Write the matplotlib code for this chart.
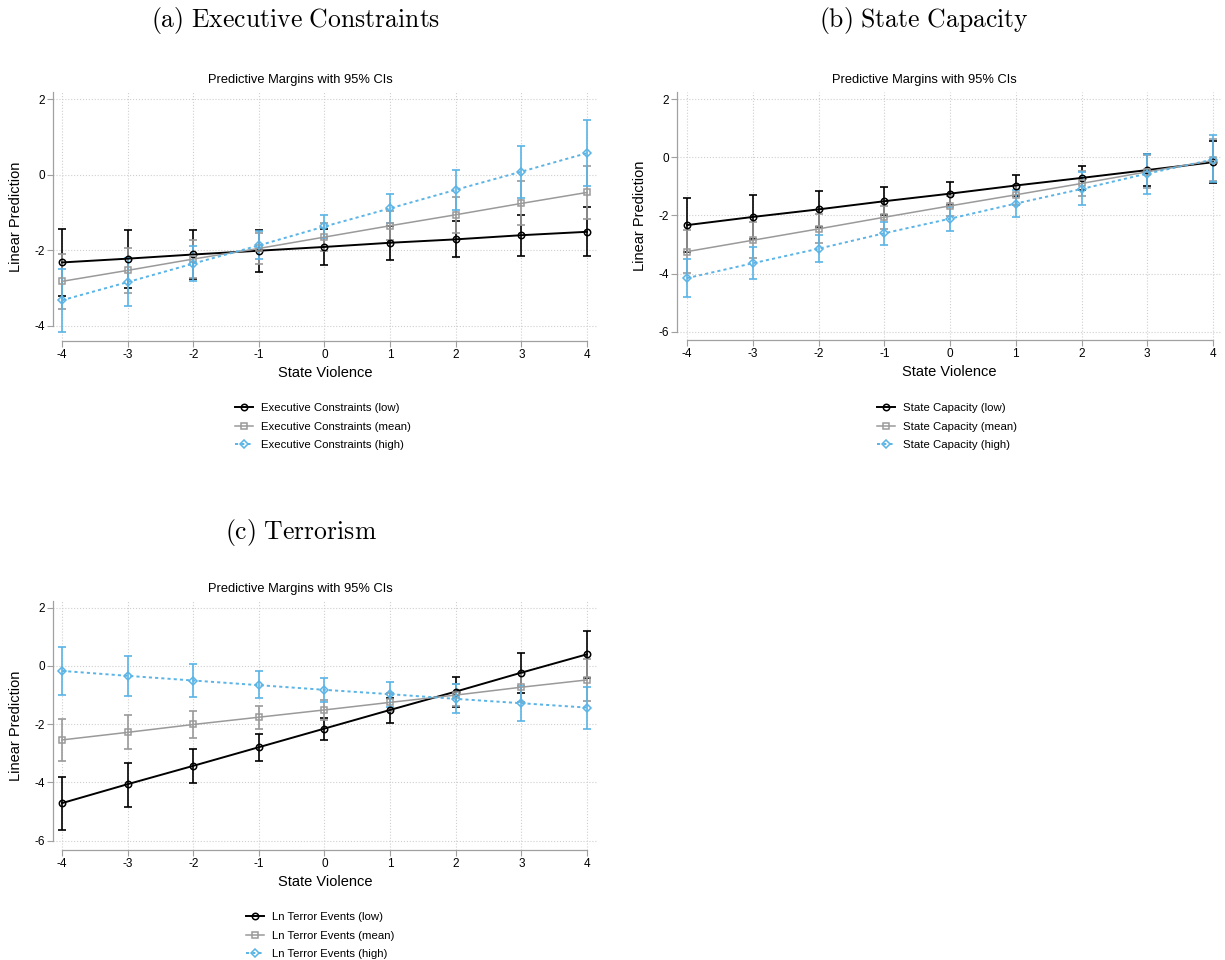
import numpy as np
import matplotlib
matplotlib.use('Agg')
import matplotlib.pyplot as plt

plt.rcParams['font.family'] = ['Liberation Sans', 'DejaVu Sans']
plt.rcParams['mathtext.fontset'] = 'cm'
plt.rcParams['axes.unicode_minus'] = False

x = np.arange(-4, 5)

# (a) executive constraints: point estimates and 95% bounds
ec_low = [-2.32, -2.22, -2.11, -2.01, -1.91, -1.80, -1.71, -1.60, -1.51]
ec_low_lo = [-3.21, -2.99, -2.76, -2.56, -2.38, -2.25, -2.18, -2.14, -2.14]
ec_low_hi = [-1.43, -1.47, -1.47, -1.47, -1.44, -1.35, -1.23, -1.06, -0.85]
ec_mean = [-2.82, -2.53, -2.23, -1.95, -1.65, -1.35, -1.06, -0.76, -0.47]
ec_mean_lo = [-3.54, -3.13, -2.73, -2.35, -2.02, -1.73, -1.54, -1.34, -1.18]
ec_mean_hi = [-2.10, -1.93, -1.73, -1.55, -1.28, -0.97, -0.58, -0.18, 0.24]
ec_high = [-3.32, -2.84, -2.35, -1.87, -1.37, -0.89, -0.40, 0.08, 0.57]
ec_high_lo = [-4.15, -3.48, -2.82, -2.24, -1.68, -1.28, -0.93, -0.61, -0.31]
ec_high_hi = [-2.49, -2.20, -1.88, -1.50, -1.06, -0.50, 0.13, 0.77, 1.45]

# (b) state capacity
sc_low = [-2.33, -2.05, -1.79, -1.51, -1.25, -0.97, -0.71, -0.44, -0.17]
sc_low_lo = [-3.26, -2.82, -2.41, -1.99, -1.64, -1.32, -1.13, -0.99, -0.89]
sc_low_hi = [-1.40, -1.28, -1.17, -1.03, -0.86, -0.62, -0.29, 0.11, 0.55]
sc_mean = [-3.24, -2.85, -2.46, -2.06, -1.67, -1.29, -0.90, -0.50, -0.11]
sc_mean_lo = [-3.99, -3.47, -2.96, -2.46, -2.01, -1.63, -1.34, -1.07, -0.83]
sc_mean_hi = [-2.49, -2.23, -1.96, -1.66, -1.33, -0.95, -0.46, 0.07, 0.61]
sc_high = [-4.15, -3.64, -3.14, -2.61, -2.11, -1.59, -1.09, -0.56, -0.08]
sc_high_lo = [-4.81, -4.17, -3.58, -3.02, -2.52, -2.06, -1.65, -1.26, -0.86]
sc_high_hi = [-3.49, -3.09, -2.68, -2.22, -1.72, -1.11, -0.50, 0.11, 0.77]

# (c) terrorism
te_low = [-4.71, -4.06, -3.43, -2.79, -2.15, -1.51, -0.88, -0.23, 0.40]
te_low_lo = [-5.63, -4.83, -4.03, -3.26, -2.55, -1.95, -1.40, -0.92, -0.42]
te_low_hi = [-3.80, -3.34, -2.86, -2.35, -1.77, -1.09, -0.37, 0.43, 1.21]
te_mean = [-2.54, -2.28, -2.01, -1.76, -1.51, -1.25, -1.00, -0.73, -0.48]
te_mean_lo = [-3.25, -2.86, -2.48, -2.15, -1.84, -1.56, -1.38, -1.23, -1.20]
te_mean_hi = [-1.83, -1.70, -1.54, -1.37, -1.18, -0.94, -0.62, -0.23, 0.24]
te_high = [-0.17, -0.34, -0.50, -0.66, -0.82, -0.97, -1.13, -1.28, -1.43]
te_high_lo = [-1.01, -1.03, -1.05, -1.11, -1.25, -1.40, -1.62, -1.88, -2.15]
te_high_hi = [0.64, 0.34, 0.06, -0.19, -0.40, -0.54, -0.63, -0.68, -0.71]

ec_labels = ['Executive Constraints (low)', 'Executive Constraints (mean)',
             'Executive Constraints (high)']
sc_labels = ['State Capacity (low)', 'State Capacity (mean)', 'State Capacity (high)']
te_labels = ['Ln Terror Events (low)', 'Ln Terror Events (mean)',
             'Ln Terror Events (high)']

BLUE = '#5ab4e6'
GRAY = '#9a9a9a'
styles = [
    dict(color='black', marker='o', ls='-', lw=1.4, ms=4.6),
    dict(color=GRAY, marker='s', ls='-', lw=1.1, ms=4.3),
    dict(color=BLUE, marker='D', ls=(0, (1.6, 1.6)), lw=1.4, ms=4.0),
]

W, H = 1225, 960
fig = plt.figure(figsize=(W / 100, H / 100), dpi=100)


def px_rect(l, t, r, b):
    return [l / W, 1 - b / H, (r - l) / W, (b - t) / H]


def panel(rect, xlim, ylim, yticks, series, labels, title, title_xy, leg_xy):
    ax = fig.add_axes(px_rect(*rect))
    for (y, lo, hi), st in zip(series, styles):
        y, lo, hi = np.array(y), np.array(lo), np.array(hi)
        ax.errorbar(x, y, yerr=[y - lo, hi - y], fmt='none', ecolor=st['color'],
                    elinewidth=1.2, capsize=2.6, capthick=1.2, zorder=3)
    for (y, lo, hi), st, lab in zip(series, styles, labels):
        ax.plot(x, y, color=st['color'], ls=st['ls'], lw=st['lw'],
                marker=st['marker'], ms=st['ms'], mfc='none', mew=1.1,
                label=lab, zorder=4)

    ax.set_xlim(*xlim)
    ax.set_ylim(*ylim)
    ax.set_xticks(x)
    ax.set_yticks(yticks)
    ax.grid(True, ls=':', color='#cfcfcf', lw=0.8)
    ax.set_axisbelow(True)
    for s in ['top', 'right']:
        ax.spines[s].set_visible(False)
    for s in ['left', 'bottom']:
        ax.spines[s].set_color('#a0a0a0')
        ax.spines[s].set_linewidth(0.9)
    ax.spines['bottom'].set_bounds(-4, 4)
    ax.spines['left'].set_bounds(yticks[0], ylim[1])
    ax.tick_params(color='#a0a0a0', length=4, width=0.8, labelsize=8.5, pad=2)

    l, t, r, b = rect
    cx = (l + r) / 2
    fig.text(cx / W, 1 - (b + 32) / H, 'State Violence', fontsize=10.5,
             ha='center', va='center')
    fig.text((l - 37) / W, 1 - (t + b) / 2 / H, 'Linear Prediction', fontsize=10.5,
             rotation=90, ha='center', va='center')
    fig.text((cx - 25) / W, 1 - (t - 12) / H, 'Predictive Margins with 95% CIs',
             fontsize=9.3, ha='center', va='center')
    fig.text(title_xy[0] / W, 1 - title_xy[1] / H, title, fontsize=18.5,
             ha='center', va='center')

    ax.legend(loc='upper left', bbox_to_anchor=(leg_xy[0] / W, 1 - leg_xy[1] / H),
              bbox_transform=fig.transFigure, frameon=False, fontsize=8.2,
              handlelength=1.55, handletextpad=0.7, labelspacing=0.75,
              borderpad=0, borderaxespad=0)
    return ax


xr_left = (-4 - 9 / 65.6, 4 + 11 / 65.6)

panel((53, 92, 598, 341), xr_left, (-4 - 15 / 37.83, 2 + 7 / 37.83), [-4, -2, 0, 2],
      [(ec_low, ec_low_lo, ec_low_hi), (ec_mean, ec_mean_lo, ec_mean_hi),
       (ec_high, ec_high_lo, ec_high_hi)],
      ec_labels, r'$\mathrm{(a)\ Executive\ Constraints}$', (296, 20), (235, 403))

panel((677, 92, 1222, 340), (-4 - 10 / 65.75, 4 + 9 / 65.75),
      (-6 - 8 / 29.1, 2 + 7 / 29.1), [-6, -4, -2, 0, 2],
      [(sc_low, sc_low_lo, sc_low_hi), (sc_mean, sc_mean_lo, sc_mean_hi),
       (sc_high, sc_high_lo, sc_high_hi)],
      sc_labels, r'$\mathrm{(b)\ State\ Capacity}$', (924, 20), (877, 403))

panel((53, 601, 598, 850), xr_left, (-6 - 9.3 / 29.1, 2 + 6.7 / 29.1),
      [-6, -4, -2, 0, 2],
      [(te_low, te_low_lo, te_low_hi), (te_mean, te_mean_lo, te_mean_hi),
       (te_high, te_high_lo, te_high_hi)],
      te_labels, r'$\mathrm{(c)\ Terrorism}$', (301, 532), (246, 912))

fig.savefig('out.png', dpi=100, facecolor='white')
